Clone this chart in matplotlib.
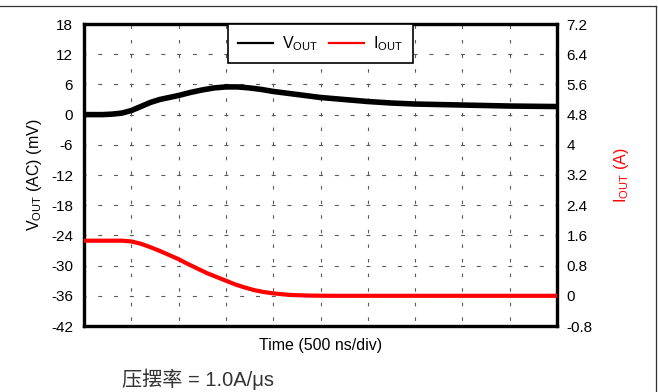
import matplotlib
matplotlib.use("Agg")
import matplotlib.pyplot as plt
from matplotlib.lines import Line2D

plt.rcParams['font.family'] = ['Liberation Sans', 'Noto Sans CJK SC', 'DejaVu Sans']
plt.rcParams['mathtext.fontset'] = 'custom'
plt.rcParams['mathtext.rm'] = 'Liberation Sans'
plt.rcParams['mathtext.it'] = 'Liberation Sans'
plt.rcParams['lines.scale_dashes'] = False
plt.rcParams['axes.unicode_minus'] = False

# Time axis: 500 ns per division, 10 divisions
time_ns = [0, 200, 300, 400, 500, 600, 700, 800, 900, 1000, 1125, 1250, 1375,
           1500, 1625, 1750, 1875, 2000, 2250, 2500, 2750, 3000, 3250, 3500,
           3750, 4000, 4500, 5000]
# Output voltage deviation (mV, AC coupled)
vout_mv = [0.0, 0.0, 0.1, 0.3, 0.8, 1.6, 2.4, 3.0, 3.4, 3.8, 4.4, 4.9, 5.3,
           5.5, 5.5, 5.3, 5.0, 4.6, 4.0, 3.4, 3.0, 2.6, 2.3, 2.1,
           2.0, 1.9, 1.7, 1.6]

iout_time_ns = [0, 400, 500, 600, 700, 800, 900, 1000, 1100, 1200, 1300, 1400,
                1500, 1600, 1700, 1800, 1900, 2000, 2100, 2200, 2400, 2600, 5000]
# Load current (A)
iout_a = [1.46, 1.46, 1.44, 1.38, 1.29, 1.19, 1.08, 0.97, 0.84, 0.72, 0.60, 0.50,
          0.40, 0.30, 0.22, 0.15, 0.10, 0.065, 0.04, 0.02, 0.005, 0.0, 0.0]

left_ticks = [18, 12, 6, 0, -6, -12, -18, -24, -30, -36, -42]
right_ticks = [7.2, 6.4, 5.6, 4.8, 4.0, 3.2, 2.4, 1.6, 0.8, 0.0, -0.8]
right_tick_labels = ["7.2", "6.4", "5.6", "4.8", "4", "3.2", "2.4", "1.6", "0.8", "0", "-0.8"]
time_ticks = list(range(0, 5001, 500))

fig = plt.figure(figsize=(6.58, 3.92), dpi=100)
ax = fig.add_axes([84 / 658, 1 - 326 / 392, 473 / 658, 302 / 392])
ax2 = ax.twinx()

ax.plot(time_ns, vout_mv, color='black', lw=4.0, solid_capstyle='butt',
        solid_joinstyle='round', zorder=3)
ax2.plot(iout_time_ns, iout_a, color='#ff0000', lw=3.0, solid_capstyle='butt',
         solid_joinstyle='round', zorder=3)

ax.set_xlim(0, 5000)
ax.set_ylim(-42, 18)
ax2.set_ylim(-0.8, 7.2)

ax.set_xticks(time_ticks)
ax.set_xticklabels([])
ax.set_yticks(left_ticks)
ax.set_yticklabels([str(t) for t in left_ticks])
ax2.set_yticks(right_ticks)
ax2.set_yticklabels(right_tick_labels)

ax.tick_params(axis='both', length=0, labelsize=11, colors='black')
ax.tick_params(axis='y', pad=8)
ax2.tick_params(axis='y', length=0, labelsize=11, pad=7)

px = 0.72  # points per pixel at 100 dpi
ax.yaxis.grid(True, color='#5a5a5a', lw=0.8,
              linestyle=(2 * px, (4 * px, 11.77 * px)))
ax.xaxis.grid(True, color='#5a5a5a', lw=0.8,
              linestyle=(9 * px, (3.5 * px, 11.1 * px)))
ax.set_axisbelow(True)

for a in (ax, ax2):
    for s in a.spines.values():
        s.set_linewidth(2.3)
        s.set_color('black')

ax.set_xlabel('Time (500 ns/div)', fontsize=11.5, labelpad=5)
ax.set_ylabel(r'$\mathrm{V_{OUT}}$ (AC) (mV)', fontsize=11.5, labelpad=5)
ax2.set_ylabel(r'$\mathrm{I_{OUT}}$ (A)', fontsize=11.5, color='#ff0000',
               rotation=90, labelpad=14)

handles = [Line2D([], [], color='black', lw=1.6),
           Line2D([], [], color='#ff0000', lw=1.6)]
leg = ax2.legend(handles, [r'$\mathrm{V_{OUT}}$', r'$\mathrm{I_{OUT}}$'],
                 loc='upper center', bbox_to_anchor=(0.5, 1.0), ncol=2,
                 borderaxespad=0, fancybox=False, framealpha=1,
                 edgecolor='black', fontsize=11.5, handlelength=2.2,
                 columnspacing=0.7, handletextpad=0.55, borderpad=0.65)
leg.get_frame().set_linewidth(1.2)

fig.text(122 / 658, 1 - 379 / 392, '压摆率 = 1.0A/μs', fontsize=14.5,
         color='#333333', ha='left', va='center')

# outer frame lines (top and right)
fig.add_artist(Line2D([0, 656 / 658], [1 - 6 / 392, 1 - 6 / 392],
                      transform=fig.transFigure, color='#333333', lw=0.9))
fig.add_artist(Line2D([656 / 658, 656 / 658], [0, 1 - 6 / 392],
                      transform=fig.transFigure, color='#333333', lw=0.9))

fig.savefig('out.png', dpi=100)
